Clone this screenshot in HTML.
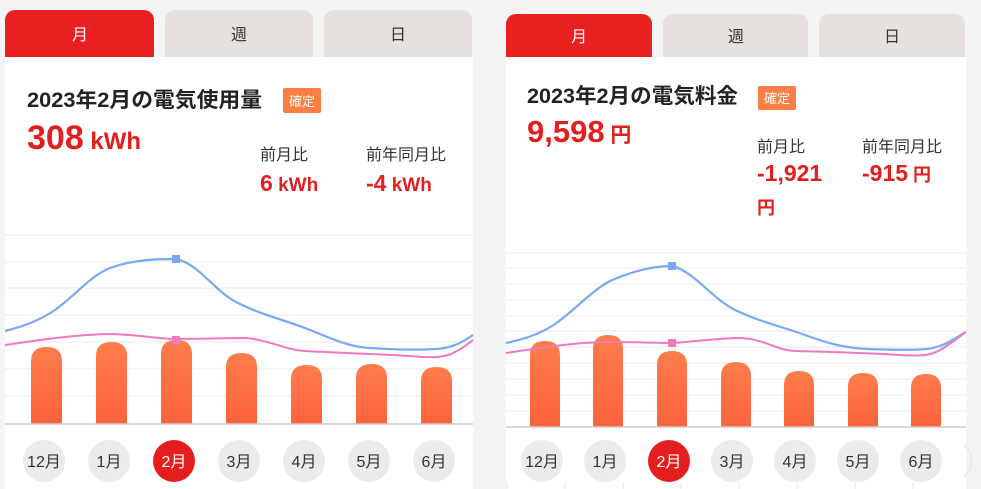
<!DOCTYPE html>
<html><head><meta charset="utf-8"><style>
html,body{margin:0;padding:0;background:#f4f4f4;width:981px;height:489px;overflow:hidden}
svg{display:block}
text{font-family:"Liberation Sans","Noto Sans CJK JP",sans-serif}
</style></head><body>
<svg width="981" height="489" viewBox="0 0 981 489" xmlns="http://www.w3.org/2000/svg">
<defs>
<linearGradient id="g" x1="0" y1="0" x2="0" y2="1"><stop offset="0" stop-color="#fd7d4b"/><stop offset="1" stop-color="#fe633d"/></linearGradient>
</defs>
<rect width="981" height="489" fill="#f4f4f4"/>
<!-- LEFT PANEL -->
<rect x="5" y="57" width="468" height="432" fill="#fff"/>
<path d="M5,57 V20 a10,10 0 0 1 10,-10 H144 a10,10 0 0 1 10,10 V57Z" fill="#e82020"/>
<path d="M165,57 V20 a10,10 0 0 1 10,-10 H303 a10,10 0 0 1 10,10 V57Z" fill="#e6e0de"/>
<path d="M324,57 V20 a10,10 0 0 1 10,-10 H462 a10,10 0 0 1 10,10 V57Z" fill="#e6e0de"/>
<text x="80" y="40" font-size="16" fill="#fff" text-anchor="middle">月</text>
<text x="239" y="40" font-size="16" fill="#333" text-anchor="middle">週</text>
<text x="398" y="40" font-size="16" fill="#333" text-anchor="middle">日</text>
<text x="27" y="107" font-size="21" font-weight="bold" fill="#222" textLength="235" lengthAdjust="spacingAndGlyphs">2023年2月の電気使用量</text>
<rect x="283" y="88" width="38" height="25" rx="2" fill="#fb7f45"/>
<text x="302" y="106" font-size="13" fill="#fff" text-anchor="middle">確定</text>
<text x="27" y="149" font-weight="bold" fill="#e41e1e"><tspan font-size="34">308</tspan><tspan font-size="24"> kWh</tspan></text>
<text x="260" y="160" font-size="16" fill="#333">前月比</text>
<text x="366" y="160" font-size="16" fill="#333">前年同月比</text>
<text x="260" y="191" font-weight="bold" fill="#e41e1e"><tspan font-size="23">6</tspan><tspan font-size="19"> kWh</tspan></text>
<text x="366" y="191" font-weight="bold" fill="#e41e1e"><tspan font-size="23">-4</tspan><tspan font-size="19"> kWh</tspan></text>
<g stroke="#efefef" stroke-width="1.2">
<line x1="5" y1="235" x2="473" y2="235"/><line x1="5" y1="262" x2="473" y2="262"/><line x1="5" y1="288" x2="473" y2="288"/><line x1="5" y1="315" x2="473" y2="315"/><line x1="5" y1="342" x2="473" y2="342"/><line x1="5" y1="369" x2="473" y2="369"/><line x1="5" y1="396" x2="473" y2="396"/>
</g>
<g fill="url(#g)">
<path d="M31,424 V361 q0,-14 15.5,-14 q15.5,0 15.5,14 V424Z"/>
<path d="M96,424 V356 q0,-14 15.5,-14 q15.5,0 15.5,14 V424Z"/>
<path d="M161,424 V354 q0,-14 15.5,-14 q15.5,0 15.5,14 V424Z"/>
<path d="M226,424 V367 q0,-14 15.5,-14 q15.5,0 15.5,14 V424Z"/>
<path d="M291,424 V379 q0,-14 15.5,-14 q15.5,0 15.5,14 V424Z"/>
<path d="M356,424 V378 q0,-14 15.5,-14 q15.5,0 15.5,14 V424Z"/>
<path d="M421,424 V381 q0,-14 15.5,-14 q15.5,0 15.5,14 V424Z"/>
</g>
<line x1="5" y1="424" x2="473" y2="424" stroke="#ccc" stroke-width="1.5"/>
<path d="M5,331 C25,326 40,320 55,310 C75,296 90,276 110,268 C135,259 160,259 176,259 C200,264 215,293 240,304 C265,316 285,320 310,330 C335,340 350,347 370,348 C400,350 420,350 436,349 C455,348 465,340 473,335" fill="none" stroke="#7aa8f5" stroke-width="2.2"/>
<path d="M5,345 C40,340 80,334 111,334 C140,335 160,339 176,339 C205,339 225,338 245,338 C270,340 285,350 305,351 C340,353 380,354 410,356 C430,358 445,358 455,352 C465,347 470,342 473,340" fill="none" stroke="#f279bd" stroke-width="2"/>
<rect x="172" y="255" width="8" height="8" fill="#7aa8f5"/>
<rect x="172" y="336" width="8" height="8" fill="#f279bd"/>
<g font-size="16" text-anchor="middle">
<circle cx="44" cy="461" r="21" fill="#ebebeb"/><text x="44" y="467" fill="#333">12月</text>
<circle cx="109" cy="461" r="21" fill="#ebebeb"/><text x="109" y="467" fill="#333">1月</text>
<circle cx="174" cy="461" r="21" fill="#e41e1e"/><text x="174" y="467" fill="#fff">2月</text>
<circle cx="239" cy="461" r="21" fill="#ebebeb"/><text x="239" y="467" fill="#333">3月</text>
<circle cx="304" cy="461" r="21" fill="#ebebeb"/><text x="304" y="467" fill="#333">4月</text>
<circle cx="369" cy="461" r="21" fill="#ebebeb"/><text x="369" y="467" fill="#333">5月</text>
<circle cx="434" cy="461" r="21" fill="#ebebeb"/><text x="434" y="467" fill="#333">6月</text>
</g>
<!-- RIGHT PANEL -->
<rect x="506" y="57" width="460" height="432" fill="#fff"/>
<path d="M506,57 V24 a10,10 0 0 1 10,-10 H642 a10,10 0 0 1 10,10 V57Z" fill="#e82020"/>
<path d="M663,57 V24 a10,10 0 0 1 10,-10 H798 a10,10 0 0 1 10,10 V57Z" fill="#e6e0de"/>
<path d="M819,57 V24 a10,10 0 0 1 10,-10 H955 a10,10 0 0 1 10,10 V57Z" fill="#e6e0de"/>
<text x="579" y="42" font-size="16" fill="#fff" text-anchor="middle">月</text>
<text x="736" y="42" font-size="16" fill="#333" text-anchor="middle">週</text>
<text x="892" y="42" font-size="16" fill="#333" text-anchor="middle">日</text>
<text x="527" y="103" font-size="21" font-weight="bold" fill="#222" textLength="211" lengthAdjust="spacingAndGlyphs">2023年2月の電気料金</text>
<rect x="758" y="86" width="38" height="24" rx="2" fill="#fb7f45"/>
<text x="777" y="103" font-size="13" fill="#fff" text-anchor="middle">確定</text>
<text x="527" y="142" font-weight="bold" fill="#e41e1e"><tspan font-size="31">9,598</tspan><tspan font-size="21"> 円</tspan></text>
<text x="757" y="152" font-size="16" fill="#333">前月比</text>
<text x="862" y="152" font-size="16" fill="#333">前年同月比</text>
<text x="757" y="181" font-size="23" font-weight="bold" fill="#e41e1e">-1,921</text>
<text x="757" y="214" font-size="18" font-weight="bold" fill="#e41e1e">円</text>
<text x="862" y="181" font-weight="bold" fill="#e41e1e"><tspan font-size="23">-915</tspan><tspan font-size="18"> 円</tspan></text>
<g stroke="#efefef" stroke-width="1.2">
<line x1="506" y1="253" x2="966" y2="253"/><line x1="506" y1="268" x2="966" y2="268"/><line x1="506" y1="284" x2="966" y2="284"/><line x1="506" y1="300" x2="966" y2="300"/><line x1="506" y1="316" x2="966" y2="316"/><line x1="506" y1="331" x2="966" y2="331"/><line x1="506" y1="347" x2="966" y2="347"/><line x1="506" y1="363" x2="966" y2="363"/><line x1="506" y1="379" x2="966" y2="379"/><line x1="506" y1="395" x2="966" y2="395"/><line x1="506" y1="411" x2="966" y2="411"/>
</g>
<g fill="url(#g)">
<path d="M530,427 V355 q0,-14 15,-14 q15,0 15,14 V427Z"/>
<path d="M593,427 V349 q0,-14 15,-14 q15,0 15,14 V427Z"/>
<path d="M657,427 V365 q0,-14 15,-14 q15,0 15,14 V427Z"/>
<path d="M721,427 V376 q0,-14 15,-14 q15,0 15,14 V427Z"/>
<path d="M784,427 V385 q0,-14 15,-14 q15,0 15,14 V427Z"/>
<path d="M848,427 V387 q0,-14 15,-14 q15,0 15,14 V427Z"/>
<path d="M911,427 V388 q0,-14 15,-14 q15,0 15,14 V427Z"/>
</g>
<line x1="506" y1="427" x2="966" y2="427" stroke="#ccc" stroke-width="1.5"/>
<path d="M506,343 C525,339 540,334 555,324 C575,310 590,292 610,281 C635,270 655,266 672,266 C695,272 710,297 735,310 C760,322 780,326 805,335 C830,344 845,348 868,349 C895,350 915,350 926,349 C945,347 955,338 966,332" fill="none" stroke="#7aa8f5" stroke-width="2.2"/>
<path d="M506,353 C540,348 575,342 608,342 C640,342 655,343 672,343 C700,341 720,338 740,338 C765,339 775,350 795,351 C830,352 870,353 900,355 C920,356 930,356 940,350 C952,343 960,336 966,332" fill="none" stroke="#f279bd" stroke-width="2"/>
<rect x="668" y="262" width="8" height="8" fill="#7aa8f5"/>
<rect x="668" y="339" width="8" height="8" fill="#f279bd"/>
<g font-size="16" text-anchor="middle">
<circle cx="542" cy="461" r="21" fill="#ebebeb"/><text x="542" y="467" fill="#333">12月</text>
<circle cx="605" cy="461" r="21" fill="#ebebeb"/><text x="605" y="467" fill="#333">1月</text>
<circle cx="669" cy="461" r="21" fill="#e41e1e"/><text x="669" y="467" fill="#fff">2月</text>
<circle cx="732" cy="461" r="21" fill="#ebebeb"/><text x="732" y="467" fill="#333">3月</text>
<circle cx="795" cy="461" r="21" fill="#ebebeb"/><text x="795" y="467" fill="#333">4月</text>
<circle cx="858" cy="461" r="21" fill="#ebebeb"/><text x="858" y="467" fill="#333">5月</text>
<circle cx="921" cy="461" r="21" fill="#ebebeb"/><text x="921" y="467" fill="#333">6月</text>
</g>
<rect x="966" y="440" width="15" height="49" fill="#f4f4f4"/>
<path d="M964,445 a21,21 0 0 1 0,32" fill="none" stroke="#ebebeb" stroke-width="2"/>
<g stroke="#e6e6e6" stroke-width="1">
<line x1="507" y1="482" x2="507" y2="489"/><line x1="565" y1="482" x2="565" y2="489"/><line x1="623" y1="482" x2="623" y2="489"/><line x1="681" y1="482" x2="681" y2="489"/><line x1="739" y1="482" x2="739" y2="489"/><line x1="797" y1="482" x2="797" y2="489"/><line x1="855" y1="482" x2="855" y2="489"/><line x1="913" y1="482" x2="913" y2="489"/>
</g>
</svg>
</body></html>
